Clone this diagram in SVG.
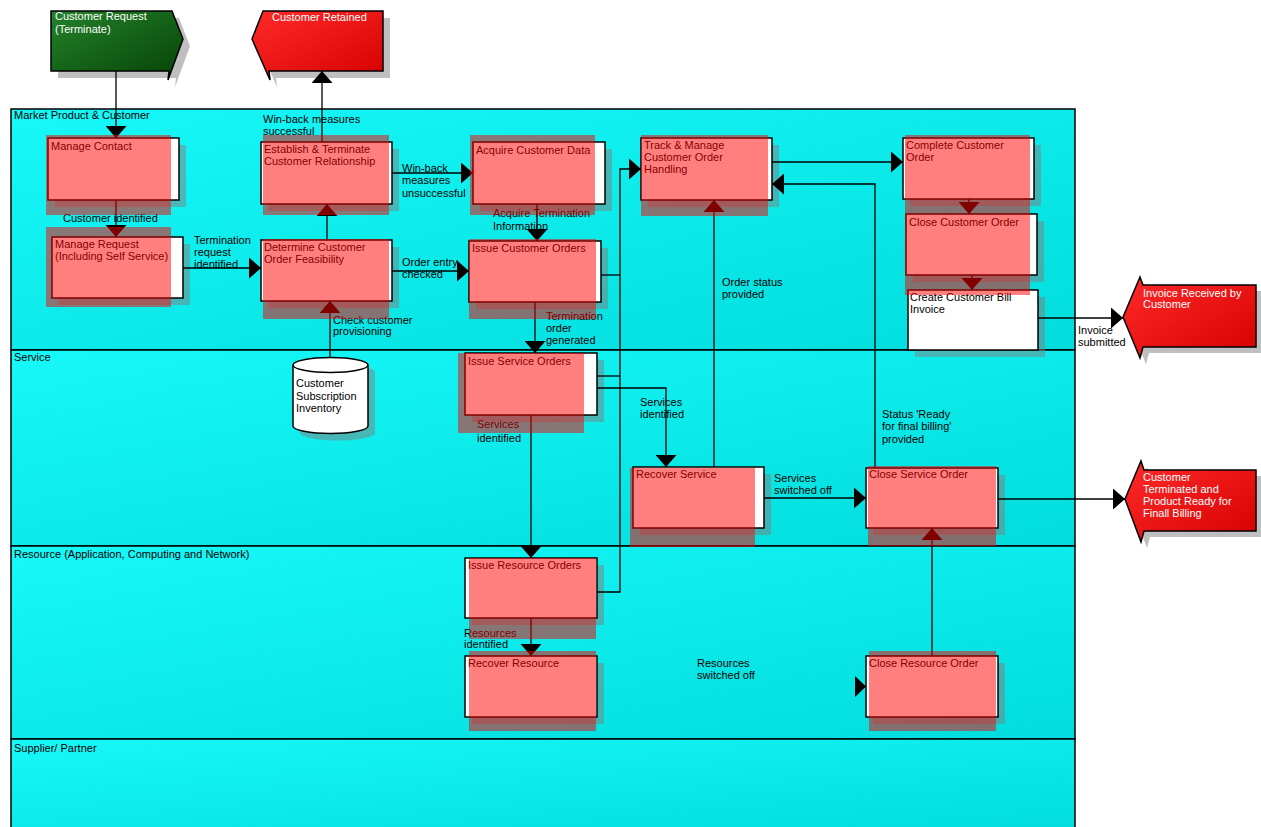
<svg xmlns="http://www.w3.org/2000/svg" width="1261" height="827" viewBox="0 0 1261 827">
<style>
.lane{stroke:#000;stroke-width:1.5;fill:url(#laneGrad)}
.shadow{fill:#808080;opacity:.5}
.box{fill:#fff;stroke:#000;stroke-width:1.5}
.hl{fill:#ff0000;opacity:.5}
.t{font-family:"Liberation Sans",Arial,sans-serif;font-size:11px;fill:#000}
.tw{font-family:"Liberation Sans",Arial,sans-serif;font-size:11px;fill:#fff}
.conn{fill:none;stroke:#000;stroke-width:1.3}
.arr{marker-end:url(#arrow)}
.evr{fill:url(#redGrad);stroke:#000;stroke-width:1.5}
.evg{fill:url(#greenGrad);stroke:#000;stroke-width:1.5}
</style>
<defs>
<linearGradient id="laneGrad" x1="0" y1="0" x2="1" y2="1">
<stop offset="0" stop-color="#17f8f8"/>
<stop offset="1" stop-color="#02dcdc"/>
</linearGradient>
<linearGradient id="redGrad" x1="0" y1="0" x2="1" y2="1">
<stop offset="0" stop-color="#ff2a2a"/>
<stop offset="1" stop-color="#d60000"/>
</linearGradient>
<linearGradient id="greenGrad" x1="0" y1="0" x2="1" y2="1">
<stop offset="0" stop-color="#23822a"/>
<stop offset="1" stop-color="#064206"/>
</linearGradient>
<marker id="arrow" markerUnits="userSpaceOnUse" markerWidth="12" markerHeight="21" viewBox="0 0 12 21" refX="12" refY="10.5" orient="auto">
<path d="M0,0 L12,10.5 L0,21 Z" fill="#000"/>
</marker>
</defs>

<g id="lanes">
<rect class="lane" x="11" y="109" width="1064" height="241"/>
<rect class="lane" x="11" y="350" width="1064" height="196"/>
<rect class="lane" x="11" y="546" width="1064" height="193"/>
<rect class="lane" x="11" y="739" width="1064" height="92"/>
<text class="t" x="14" y="119">Market Product &amp; Customer</text>
<text class="t" x="14" y="361">Service</text>
<text class="t" x="14" y="558">Resource (Application, Computing and Network)</text>
<text class="t" x="14" y="752">Supplier/ Partner</text>
</g>

<g id="ev-customer-request">
<polygon class="shadow" points="58,18 179,18 190,46 175,87 176,78 58,78"/>
<polygon class="evg" points="51,11 172,11 183,39 168,80 169,71 51,71"/>
<text class="tw" x="55" y="20">Customer Request</text>
<text class="tw" x="55" y="33">(Terminate)</text>
</g>
<g id="ev-customer-retained">
<polygon class="shadow" points="270,18 390,18 390,78 276,78 277,87 259,46"/>
<polygon class="evr" points="263,11 383,11 383,71 269,71 270,80 252,39"/>
<text class="tw" x="272" y="21">Customer Retained</text>
</g>
<g id="ev-invoice-received">
<polygon class="shadow" points="1129,323 1146,283 1149,291 1262,291 1262,353 1149,353 1146,364"/>
<polygon class="evr" points="1123,317 1140,277 1143,285 1256,285 1256,347 1143,347 1140,358"/>
<text class="tw" x="1143" y="297">Invoice Received by</text>
<text class="tw" x="1143" y="308">Customer</text>
</g>
<g id="ev-customer-terminated">
<polygon class="shadow" points="1131,505 1147,467 1150,476 1262,476 1262,537 1150,537 1147,548"/>
<polygon class="evr" points="1125,499 1141,461 1144,470 1256,470 1256,531 1144,531 1141,542"/>
<text class="tw" x="1143" y="481">Customer</text>
<text class="tw" x="1143" y="493">Terminated and</text>
<text class="tw" x="1143" y="505">Product Ready for</text>
<text class="tw" x="1143" y="517">Finall Billing</text>
</g>

<g id="n-manage-contact">
<rect class="shadow" x="55" y="145" width="131" height="62"/>
<rect class="box" x="48" y="138" width="131" height="62"/>
<text class="t" x="51" y="150">Manage Contact</text>
</g>
<g id="n-manage-request">
<rect class="shadow" x="59" y="244" width="131" height="61"/>
<rect class="box" x="52" y="237" width="131" height="61"/>
<text class="t" x="55" y="248">Manage Request</text>
<text class="t" x="55" y="260">(Including Self Service)</text>
</g>
<g id="n-establish">
<rect class="shadow" x="268" y="149" width="131" height="62"/>
<rect class="box" x="261" y="142" width="131" height="62"/>
<text class="t" x="264" y="153">Establish &amp; Terminate</text>
<text class="t" x="264" y="165">Customer Relationship</text>
</g>
<g id="n-determine">
<rect class="shadow" x="268" y="247" width="131" height="61"/>
<rect class="box" x="261" y="240" width="131" height="61"/>
<text class="t" x="264" y="251">Determine Customer</text>
<text class="t" x="264" y="263">Order Feasibility</text>
</g>
<g id="n-acquire">
<rect class="shadow" x="480" y="149" width="132" height="62"/>
<rect class="box" x="473" y="142" width="132" height="62"/>
<text class="t" x="476" y="154">Acquire Customer Data</text>
</g>
<g id="n-issue-customer-orders">
<rect class="shadow" x="476" y="248" width="132" height="61"/>
<rect class="box" x="469" y="241" width="132" height="61"/>
<text class="t" x="472" y="252">Issue Customer Orders</text>
</g>
<g id="n-track">
<rect class="shadow" x="648" y="145" width="131" height="62"/>
<rect class="box" x="641" y="138" width="131" height="62"/>
<text class="t" x="644" y="149">Track &amp; Manage</text>
<text class="t" x="644" y="161">Customer Order</text>
<text class="t" x="644" y="173">Handling</text>
</g>
<g id="n-complete">
<rect class="shadow" x="910" y="145" width="131" height="61"/>
<rect class="box" x="903" y="138" width="131" height="61"/>
<text class="t" x="906" y="149">Complete Customer</text>
<text class="t" x="906" y="161">Order</text>
</g>
<g id="n-close-customer-order">
<rect class="shadow" x="913" y="221" width="131" height="61"/>
<rect class="box" x="906" y="214" width="131" height="61"/>
<text class="t" x="909" y="226">Close Customer Order</text>
</g>
<g id="n-create-bill">
<rect class="shadow" x="915" y="297" width="130" height="60"/>
<rect class="box" x="908" y="290" width="130" height="60"/>
<text class="t" x="910" y="301">Create Customer Bill</text>
<text class="t" x="910" y="313">Invoice</text>
</g>
<g id="n-inventory">
<path class="shadow" d="M300,372 V433 A37.5,7.5 0 0 0 375,433 V372 A37.5,7.5 0 0 0 300,372 Z"/>
<path d="M293,365 V426 A37.5,7.5 0 0 0 368,426 V365" fill="#fff" stroke="#000" stroke-width="1.5"/>
<ellipse cx="330.5" cy="365" rx="37.5" ry="7.5" fill="#fff" stroke="#000" stroke-width="1.5"/>
<text class="t" x="296" y="387">Customer</text>
<text class="t" x="296" y="400">Subscription</text>
<text class="t" x="296" y="412">Inventory</text>
</g>
<g id="n-issue-service-orders">
<rect class="shadow" x="472" y="360" width="132" height="62"/>
<rect class="box" x="465" y="353" width="132" height="62"/>
<text class="t" x="468" y="365">Issue Service Orders</text>
</g>
<g id="n-recover-service">
<rect class="shadow" x="640" y="474" width="131" height="61"/>
<rect class="box" x="633" y="467" width="131" height="61"/>
<text class="t" x="636" y="478">Recover Service</text>
</g>
<g id="n-close-service-order">
<rect class="shadow" x="873" y="475" width="132" height="60"/>
<rect class="box" x="866" y="468" width="132" height="60"/>
<text class="t" x="869" y="478">Close Service Order</text>
</g>
<g id="n-issue-resource-orders">
<rect class="shadow" x="472" y="565" width="132" height="60"/>
<rect class="box" x="465" y="558" width="132" height="60"/>
<text class="t" x="468" y="569">Issue Resource Orders</text>
</g>
<g id="n-recover-resource">
<rect class="shadow" x="472" y="663" width="132" height="61"/>
<rect class="box" x="465" y="656" width="132" height="61"/>
<text class="t" x="468" y="667">Recover Resource</text>
</g>
<g id="n-close-resource-order">
<rect class="shadow" x="873" y="663" width="132" height="61"/>
<rect class="box" x="866" y="656" width="132" height="61"/>
<text class="t" x="869" y="667">Close Resource Order</text>
</g>

<g id="connectors">
<path class="conn arr" d="M116,71 V138"/>
<path class="conn arr" d="M322,142 V71"/>
<path class="conn arr" d="M116,200 V237"/>
<path class="conn arr" d="M183,268 H261"/>
<path class="conn arr" d="M327,240 V204"/>
<path class="conn arr" d="M392,173 H473"/>
<path class="conn arr" d="M537,204 V241"/>
<path class="conn arr" d="M392,271 H469"/>
<path class="conn arr" d="M535,302 V353"/>
<path class="conn" d="M601,275 H620"/>
<path class="conn" d="M597,376 H620"/>
<path class="conn arr" d="M597,592 H620 V169 H641"/>
<path class="conn arr" d="M597,388 H666 V467"/>
<path class="conn arr" d="M531,415 V558"/>
<path class="conn arr" d="M714,467 V200"/>
<path class="conn arr" d="M764,498 H866"/>
<path class="conn arr" d="M875,468 V184 H772"/>
<path class="conn arr" d="M772,162 H903"/>
<path class="conn arr" d="M969,199 V214"/>
<path class="conn arr" d="M972,275 V290"/>
<path class="conn arr" d="M1038,318 H1123"/>
<path class="conn arr" d="M531,618 V656"/>
<path class="conn arr" d="M932,656 V528"/>
<path class="conn arr" d="M998,499 H1125"/>
<path class="conn arr" d="M330,358 V301"/>
<polygon points="855,676 866,686.5 855,697" fill="#000"/>
<text class="t" x="263" y="123">Win-back measures</text>
<text class="t" x="263" y="135">successful</text>
<text class="t" x="63" y="222">Customer identified</text>
<text class="t" x="194" y="244">Termination</text>
<text class="t" x="194" y="256">request</text>
<text class="t" x="194" y="268">identified</text>
<text class="t" x="402" y="172">Win-back</text>
<text class="t" x="402" y="184">measures</text>
<text class="t" x="402" y="197">unsuccessful</text>
<text class="t" x="493" y="217">Acquire Termination</text>
<text class="t" x="493" y="230">Information</text>
<text class="t" x="402" y="266">Order entry</text>
<text class="t" x="402" y="278">checked</text>
<text class="t" x="333" y="324">Check customer</text>
<text class="t" x="333" y="335">provisioning</text>
<text class="t" x="546" y="320">Termination</text>
<text class="t" x="546" y="332">order</text>
<text class="t" x="546" y="344">generated</text>
<text class="t" x="722" y="286">Order status</text>
<text class="t" x="722" y="298">provided</text>
<text class="t" x="640" y="406">Services</text>
<text class="t" x="640" y="418">identified</text>
<text class="t" x="477" y="428">Services</text>
<text class="t" x="477" y="442">identified</text>
<text class="t" x="774" y="482">Services</text>
<text class="t" x="774" y="494">switched off</text>
<text class="t" x="882" y="418">Status 'Ready</text>
<text class="t" x="882" y="430">for final billing'</text>
<text class="t" x="882" y="443">provided</text>
<text class="t" x="1078" y="334">Invoice</text>
<text class="t" x="1078" y="346">submitted</text>
<text class="t" x="464" y="637">Resources</text>
<text class="t" x="464" y="648">identified</text>
<text class="t" x="697" y="667">Resources</text>
<text class="t" x="697" y="679">switched off</text>
</g>

<g id="highlights">
<rect class="hl" x="46" y="135" width="125" height="80"/>
<rect class="hl" x="46" y="227" width="125" height="80"/>
<rect class="hl" x="263" y="135" width="126" height="80"/>
<rect class="hl" x="263" y="239" width="126" height="80"/>
<rect class="hl" x="470" y="135" width="125" height="80"/>
<rect class="hl" x="469" y="239" width="127" height="80"/>
<rect class="hl" x="641" y="135" width="127" height="81"/>
<rect class="hl" x="905" y="135" width="125" height="160"/>
<rect class="hl" x="458" y="353" width="126" height="80"/>
<rect class="hl" x="630" y="468" width="125" height="79"/>
<rect class="hl" x="469" y="558" width="127" height="81"/>
<rect class="hl" x="469" y="651" width="127" height="80"/>
<rect class="hl" x="868" y="466" width="128" height="80"/>
<rect class="hl" x="869" y="651" width="127" height="80"/>
</g>
</svg>
